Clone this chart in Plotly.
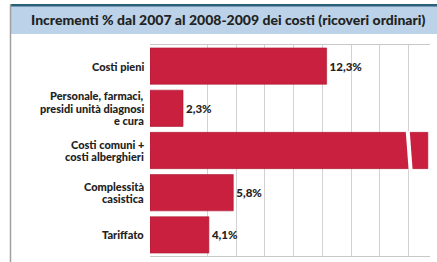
import plotly.graph_objects as go

# ---- data ----
categories = [
    "Costi pieni",
    "Personale, farmaci,<br>presidi unità diagnosi<br>e cura",
    "Costi comuni +<br>costi alberghieri",
    "Complessità<br>casistica",
    "Tariffato",
]
values = [12.3, 2.3, 19.35, 5.8, 4.1]          # third bar is drawn broken (off-scale)
value_labels = ["12,3%", "2,3%", "", "5,8%", "4,1%"]
broken_index = 2
break_at = [17.95, 18.15]                       # where the white slash cuts the broken bar
grid_vals = [4, 6, 8, 10, 12, 14, 16, 18]
title_text = "Incrementi % dal 2007 al 2008-2009 dei costi (ricoveri ordinari)"

W, H = 437, 262
L, R, T, B = 150, 7, 45, 6
PW, PH = W - L - R, H - T - B

def px(xp):
    return (xp - L) / PW

def py(yp):
    return (H - B - yp) / PH

BAR = "#C9203F"
FONT = "Lato"

fig = go.Figure()
fig.add_trace(go.Bar(
    x=values, y=list(range(len(categories))), orientation="h",
    marker=dict(color=BAR, line=dict(color="#A8182F", width=0.6)),
    text=value_labels,
    textposition="outside", cliponaxis=False,
    textfont=dict(family=FONT, size=11.5, color="#222", weight=900),
    width=0.86, hoverinfo="skip",
))

shapes = []
# title band
shapes.append(dict(type="rect", xref="paper", yref="paper", x0=px(10), x1=px(437),
                   y0=py(34), y1=py(6), fillcolor="#BBD2E8", line=dict(width=0), layer="below"))
shapes.append(dict(type="rect", xref="paper", yref="paper", x0=px(10), x1=px(437),
                   y0=py(6.5), y1=py(4), fillcolor="#2C5F78", line=dict(width=0)))
# left frame line
shapes.append(dict(type="line", xref="paper", yref="paper", x0=px(10.5), x1=px(10.5),
                   y0=py(262), y1=py(4), line=dict(color="#A0A0A0", width=1.5)))
# break slash on the off-scale bar
shapes.append(dict(type="line", xref="x", yref="y",
                   x0=break_at[0], x1=break_at[1],
                   y0=broken_index - 0.46, y1=broken_index + 0.46,
                   line=dict(color="white", width=4)))
fig.update_layout(shapes=shapes)

# category labels, line by line (tight leading)
annotations = []
LH = 12.4
for i, cat in enumerate(categories):
    lines = cat.split("<br>")
    n = len(lines)
    for j, ln in enumerate(lines):
        off = ((n - 1) / 2 - j) * LH
        annotations.append(dict(
            x=0, xref="paper", y=i, yref="y", xanchor="right", yanchor="middle",
            xshift=-5, yshift=off, text=ln, showarrow=False, borderpad=0,
            font=dict(family=FONT, size=11, color="#222", weight=900), align="right"))
annotations.append(dict(
    x=px(228), xref="paper", y=py(19.5), yref="paper", xanchor="center", yanchor="middle",
    text=title_text, showarrow=False,
    font=dict(family=FONT, size=14, color="#222", weight=900)))
fig.update_layout(annotations=annotations)

fig.update_layout(
    width=W, height=H,
    margin=dict(l=L, r=R, t=T, b=B, pad=0),
    paper_bgcolor="white", plot_bgcolor="white",
    showlegend=False, bargap=0.14,
    xaxis=dict(range=[0, 19.5], tickvals=grid_vals, showticklabels=False,
               showgrid=True, gridcolor="#D2D2D2", gridwidth=1, zeroline=False,
               showline=True, linecolor="#C8C8C8", linewidth=1, mirror=True, ticks=""),
    yaxis=dict(range=[len(categories) - 0.5, -0.5], showticklabels=False,
               showgrid=False, zeroline=False, showline=False, ticks=""),
)

fig.write_html("out.html", config={"displayModeBar": False},
               post_script="document.body.style.margin='0';document.body.style.overflow='hidden';")
